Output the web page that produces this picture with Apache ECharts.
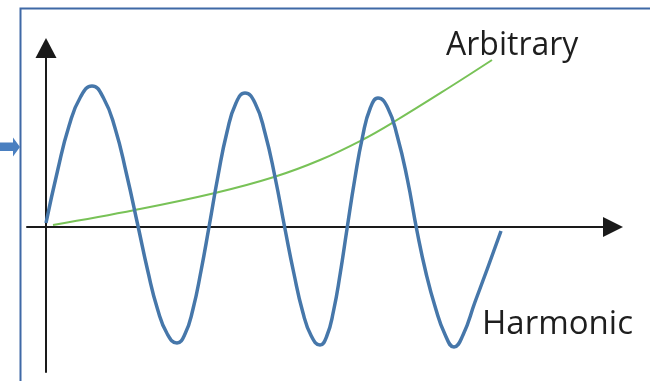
<!DOCTYPE html>
<html>
<head>
<meta charset="utf-8">
<script src="https://cdn.jsdelivr.net/npm/echarts@6/dist/echarts.min.js"></script>
<style>
html,body{margin:0;padding:0;background:#fff;}
#chart{width:650px;height:381px;}
</style>
</head>
<body>
<div id="chart"></div>
<script>
// Series names / labels
var seriesNames = ['Harmonic', 'Arbitrary'];

// Harmonic (blue) curve: x positions and values
var harmonicX = [0, 1.15, 2.3, 3.45, 4.6, 5.75, 6.9, 8.05, 9.2,
  10.18, 11.15, 12.13, 13.1, 13.9, 14.7, 15.5, 16.3,
  17.2, 18.1, 19.0, 19.9, 20.9, 21.9, 22.9, 23.9,
  24.78, 25.65, 26.53, 27.4, 28.08, 28.75, 29.43, 30.1,
  30.88, 31.65, 32.43, 33.2, 34.18, 35.15, 36.13, 37.1,
  38.0, 38.95, 39.88, 40.8, 41.7, 42.9, 44.2, 45.5];
var harmonicY = [0.4, 5.6, 10.1, 13.0, 14.1, 12.9, 9.9, 5.3, 0.1,
  -4.4, -8.2, -10.7, -11.6, -10.7, -8.2, -4.4, 0,
  5.1, 9.5, 12.4, 13.4, 12.4, 9.4, 5.0, -0.2,
  -4.6, -8.4, -10.9, -11.8, -10.9, -8.4, -4.6, -0.2,
  4.8, 9.0, 11.9, 12.9, 11.9, 9.0, 4.8, -0.4,
  -4.6, -8.1, -10.7, -12.0, -10.8, -7.5, -4.0, -0.4];

// Arbitrary (green) curve
var arbitraryX = [0.7, 8.9, 16.9, 22.8, 27.4, 31.6, 34.6, 40.4, 44.6];
var arbitraryY = [0.2, 1.7, 3.4, 5.0, 6.7, 8.7, 10.4, 14.0, 16.7];

function zip(xs, ys) {
  var out = [];
  for (var i = 0; i < xs.length; i++) out.push([xs[i], ys[i]]);
  return out;
}

var chart = echarts.init(document.getElementById('chart'), null, {renderer: 'canvas'});
var option = {
  backgroundColor: '#ffffff',
  animation: false,
  grid: {left: 27, right: 37, top: 48, bottom: 9, containLabel: false},
  xAxis: {
    type: 'value', min: -1.9, max: 56.7,
    axisLabel: {show: false}, axisTick: {show: false}, splitLine: {show: false},
    axisLine: {show: true, onZero: true, symbol: ['none', 'triangle'], symbolSize: [20, 20],
      lineStyle: {color: '#1a1a1a', width: 2}}
  },
  yAxis: {
    type: 'value', min: -14.5, max: 17.9,
    axisLabel: {show: false}, axisTick: {show: false}, splitLine: {show: false},
    axisLine: {show: true, onZero: true, symbol: ['none', 'triangle'], symbolSize: [21, 20],
      lineStyle: {color: '#1a1a1a', width: 2}}
  },
  graphic: [
    {type: 'rect', shape: {x: 20.5, y: 8.5, width: 700, height: 500},
      style: {fill: null, stroke: '#3f69a6', lineWidth: 2}, z: 0, silent: true},
    {type: 'polygon', shape: {points: [[0, 142.5], [13, 142.5], [13, 137.5], [20, 147], [13, 156.5], [13, 151], [0, 151]]},
      style: {fill: '#4a7fc0'}, silent: true},
    {type: 'text', x: 446, y: 46, style: {text: seriesNames[1], font: '32px "Open Sans"', fill: '#1e1e1e', verticalAlign: 'middle'}, z: 10},
    {type: 'text', x: 482, y: 325, style: {text: seriesNames[0], font: '33px "Open Sans"', fill: '#1e1e1e', verticalAlign: 'middle'}, z: 10}
  ],
  series: [
    {name: seriesNames[1], type: 'line', data: zip(arbitraryX, arbitraryY), smooth: 0.4,
      showSymbol: false, lineStyle: {color: '#78c257', width: 2}, z: 3},
    {name: seriesNames[0], type: 'line', data: zip(harmonicX, harmonicY), smooth: true,
      showSymbol: false, lineStyle: {color: '#4677aa', width: 3.5}, z: 4}
  ]
};
chart.setOption(option);
</script>
</body>
</html>
